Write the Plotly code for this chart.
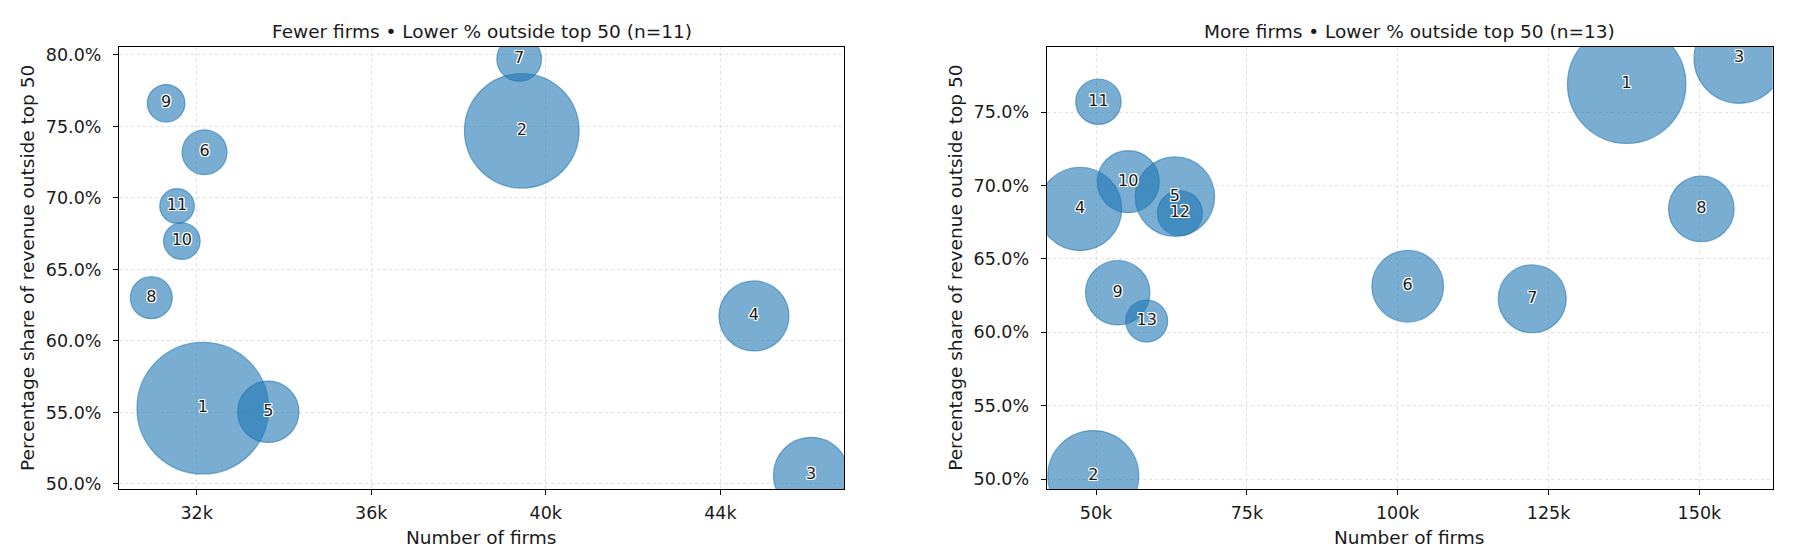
import plotly.graph_objects as go

# ---------------- data ----------------
# Left panel: Fewer firms • Lower % outside top 50
left_labels = ["1", "2", "3", "4", "5", "6", "7", "8", "9", "10", "11"]
left_firms = [32140, 39450, 46080, 44770, 33640, 32180, 39390, 30960, 31300, 31660, 31550]
left_pct = [55.3, 74.7, 50.63, 61.75, 55.05, 73.2, 79.72, 63.03, 76.62, 66.99, 69.44]
left_size = [4330, 3283, 1421, 1225, 942, 505, 500, 441, 353, 335, 299]

# Right panel: More firms • Lower % outside top 50
right_labels = ["1", "2", "3", "4", "5", "6", "7", "8", "9", "10", "11", "12", "13"]
right_firms = [137950, 49550, 156570, 47350, 63080, 101660, 122300, 150320, 53600, 55350, 50400, 63900, 58400]
right_pct = [76.91, 50.2, 78.68, 68.41, 69.25, 63.14, 62.29, 68.41, 62.7, 70.27, 75.72, 68.12, 60.77]
right_size = [3505, 2070, 2025, 1739, 1576, 1282, 1156, 1076, 1037, 961, 515, 506, 441]

left_title = "Fewer firms • Lower % outside top 50 (n=11)"
right_title = "More firms • Lower % outside top 50 (n=13)"
x_title = "Number of firms"
y_title = "Percentage share of revenue outside top 50"

left_xticks = [32000, 36000, 40000, 44000]
left_xtext = ["32k", "36k", "40k", "44k"]
left_yticks = [50, 55, 60, 65, 70, 75, 80]
left_ytext = ["50.0%", "55.0%", "60.0%", "65.0%", "70.0%", "75.0%", "80.0%"]
right_xticks = [50000, 75000, 100000, 125000, 150000]
right_xtext = ["50k", "75k", "100k", "125k", "150k"]
right_yticks = [50, 55, 60, 65, 70, 75]
right_ytext = ["50.0%", "55.0%", "60.0%", "65.0%", "70.0%", "75.0%"]

# ---------------- styling ----------------
W, H = 1809, 552
FONT = "DejaVu Sans"
TXT = "#1a1a1a"
FILL = "rgba(31,119,180,0.6)"
EDGE = "rgba(31,119,180,0.6)"
SHADOW = ("-1px -1px 0 #fff, 1px -1px 0 #fff, -1px 1px 0 #fff, 1px 1px 0 #fff, "
          "0 1px 0 #fff, 0 -1px 0 #fff, 1px 0 0 #fff, -1px 0 0 #fff")

# plot area pixel boxes (left, right, top, bottom)
L_box = (119, 844.3)
R_box = (1046.7, 1772.7)
top_px, bot_px = 46.7, 489.0
ydom = [1 - bot_px / H, 1 - top_px / H]

fig = go.Figure()


def bubble(x, y, s, labels, xa, ya):
    return go.Scatter(
        x=x, y=y, mode="markers+text", text=labels,
        textposition="middle center",
        textfont=dict(family=FONT, size=16, color=TXT, shadow=SHADOW),
        marker=dict(size=s, sizemode="area", sizeref=0.5, color=FILL, opacity=1,
                    line=dict(color=EDGE, width=1.2)),
        xaxis=xa, yaxis=ya, showlegend=False, hoverinfo="skip",
    )


fig.add_trace(bubble(left_firms, left_pct, left_size, left_labels, "x", "y"))
fig.add_trace(bubble(right_firms, right_pct, right_size, right_labels, "x2", "y2"))

axis_common = dict(
    showline=True, linecolor="black", linewidth=1.2, mirror=True,
    ticks="outside", ticklen=5, tickwidth=1, tickcolor="black",
    showgrid=True, gridcolor="#e0e0e0", gridwidth=0.8, griddash="dot",
    zeroline=False, tickfont=dict(family=FONT, size=17.5, color=TXT),
    automargin=False,
)

fig.update_layout(
    width=W, height=H,
    margin=dict(l=0, r=0, t=0, b=0, pad=0),
    paper_bgcolor="white", plot_bgcolor="white",
    xaxis=dict(domain=[L_box[0] / W, L_box[1] / W], range=[30220, 46840],
               tickvals=left_xticks, ticktext=left_xtext, anchor="y",
               ticklabelstandoff=3, **axis_common),
    yaxis=dict(domain=ydom, range=[49.65, 80.58], tickvals=left_yticks,
               ticktext=left_ytext, anchor="x", ticklabelstandoff=8, **axis_common),
    xaxis2=dict(domain=[R_box[0] / W, R_box[1] / W], range=[41830, 162150],
                tickvals=right_xticks, ticktext=right_xtext, anchor="y2",
                ticklabelstandoff=3, **axis_common),
    yaxis2=dict(domain=ydom, range=[49.32, 79.47], tickvals=right_yticks,
                ticktext=right_ytext, anchor="x2", ticklabelstandoff=8, **axis_common),
)

ann_font = dict(family=FONT, size=18.5, color=TXT)
annotations = []
for (x0, x1), title, ylab_x in ((L_box, left_title, 28), (R_box, right_title, 955.8)):
    cx = (x0 + x1) / 2 / W
    annotations.append(dict(text=title, x=cx, y=1 - 31 / H, xref="paper", yref="paper",
                            xanchor="center", yanchor="middle", showarrow=False, font=ann_font))
    annotations.append(dict(text=x_title, x=cx, y=1 - 537 / H, xref="paper", yref="paper",
                            xanchor="center", yanchor="middle", showarrow=False, font=ann_font))
    annotations.append(dict(text=y_title, x=ylab_x / W, y=1 - 268 / H, xref="paper", yref="paper",
                            xanchor="center", yanchor="middle", showarrow=False, textangle=-90,
                            font=ann_font))
fig.update_layout(annotations=annotations)

fig.write_html(
    "out.html",
    config={"displayModeBar": False},
    post_script="document.body.style.margin='0';document.body.style.overflow='hidden';",
)
